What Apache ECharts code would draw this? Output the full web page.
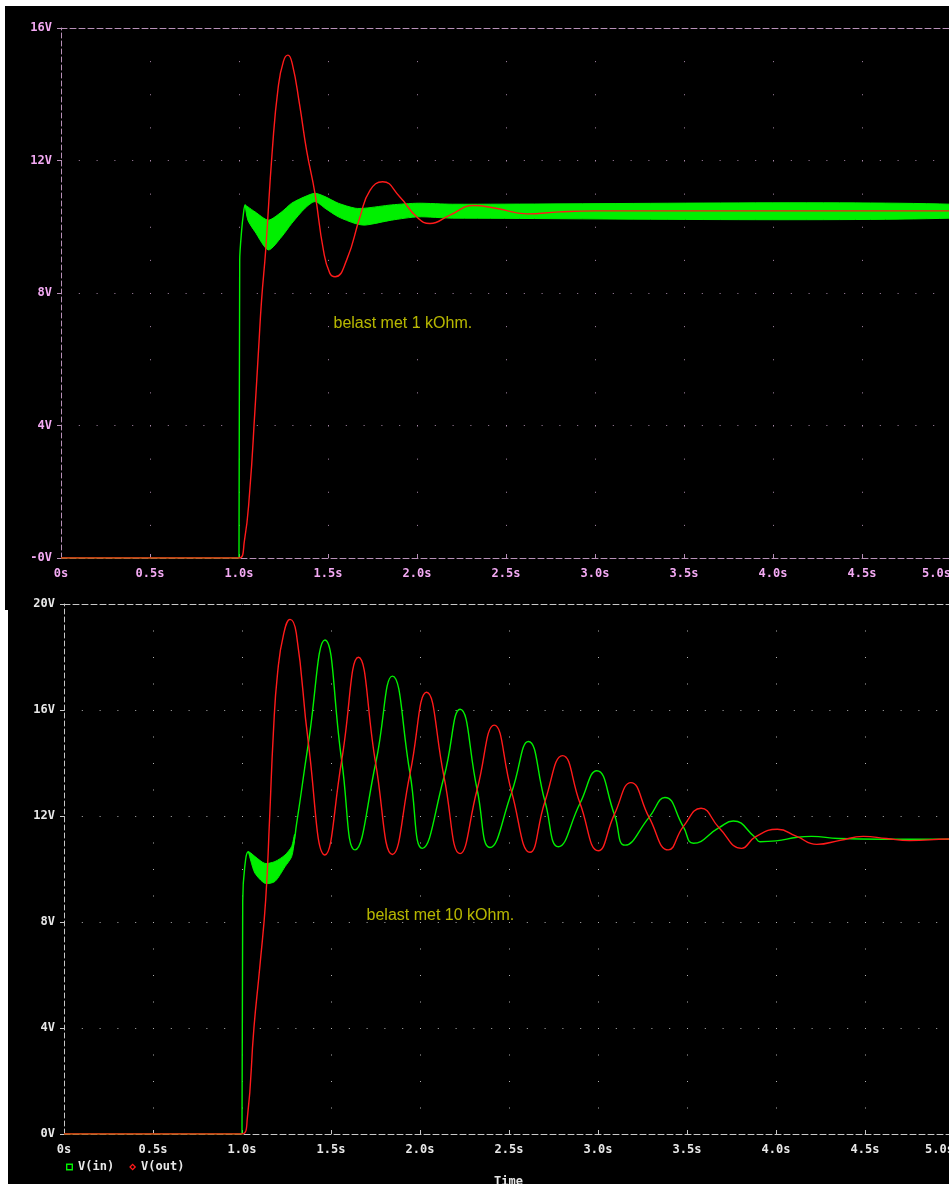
<!DOCTYPE html>
<html>
<head>
<meta charset="utf-8">
<script src="https://cdn.jsdelivr.net/npm/echarts/dist/echarts.min.js"></script>
<style>
html,body{margin:0;padding:0;background:#fff;overflow:hidden;width:949px;height:1184px}
#p1{position:absolute;left:5px;top:6px;width:944px;height:604px;background:#000}
#p2{position:absolute;left:8px;top:610px;width:941px;height:574px;background:#000}
#chart{position:absolute;left:0;top:0;width:949px;height:1184px}
</style>
</head>
<body>
<div id="p1"></div>
<div id="p2"></div>
<div id="chart"></div>
<script>
// ---------- tick labels ----------
const xTickLabels = ['0s','0.5s','1.0s','1.5s','2.0s','2.5s','3.0s','3.5s','4.0s','4.5s','5.0s'];
const topYTickLabels = ['-0V','4V','8V','12V','16V'];
const botYTickLabels = ['0V','4V','8V','12V','16V','20V'];
const legendNames = ['V(in)','V(out)'];
const timeLabel = 'Time';

// ---------- top plot (1 kOhm) ----------
const topVinT = [0, 1.0, 1.004, 1.015, 1.025, 1.034, 1.05, 1.09, 1.165, 1.24, 1.296, 1.371, 1.427, 1.483, 1.558, 1.652, 1.708, 1.858, 2.007, 2.2, 5.0];
const topVinV = [0, 0, 9.0, 9.9, 10.4, 10.66, 10.4, 10.15, 9.75, 10.08, 10.4, 10.73, 10.88, 10.73, 10.5, 10.33, 10.3, 10.43, 10.5, 10.46, 10.46];
const topBandT  = [1.034, 1.05, 1.09, 1.165, 1.24, 1.296, 1.371, 1.427, 1.483, 1.558, 1.652, 1.708, 1.858, 2.007, 2.2, 5.0];
const topBandLo = [10.66, 10.2, 9.85, 9.3, 9.7, 10.1, 10.56, 10.76, 10.56, 10.3, 10.1, 10.05, 10.2, 10.3, 10.26, 10.26];
const topBandHi = [10.66, 10.6, 10.45, 10.2, 10.45, 10.71, 10.91, 11.01, 10.91, 10.71, 10.56, 10.56, 10.66, 10.71, 10.68, 10.68];
const topVoutT = [0, 1.0, 1.03, 1.06, 1.09, 1.11, 1.127, 1.15, 1.187, 1.22, 1.25, 1.275, 1.30, 1.34, 1.38, 1.427, 1.474, 1.51, 1.54, 1.605, 1.68, 1.736, 1.807, 1.904, 1.998, 2.073, 2.185, 2.317, 2.45, 2.616, 2.8, 3.0, 5.0];
const topVoutV = [0, 0, 0.5, 2.0, 4.5, 6.3, 7.8, 9.3, 12.3, 14.2, 15.0, 15.18, 14.9, 13.7, 12.3, 11.0, 9.3, 8.6, 8.49, 9.0, 10.3, 11.1, 11.36, 10.9, 10.3, 10.1, 10.35, 10.64, 10.55, 10.39, 10.45, 10.48, 10.48];
const topNoteText = 'belast met 1 kOhm.';
const topNotePos = [1.528, 7.09];

// ---------- bottom plot (10 kOhm) ----------
const botVinT = [0, 1.0, 1.004, 1.02, 1.036, 1.05, 1.073, 1.129, 1.185, 1.242, 1.279, 1.307, 1.373, 1.466, 1.56, 1.635, 1.751, 1.845, 1.944, 2.013, 2.135, 2.225, 2.321, 2.393, 2.515, 2.609, 2.702, 2.777, 2.899, 2.993, 3.092, 3.152, 3.287, 3.376, 3.479, 3.536, 3.68, 3.76, 3.882, 3.91, 4.0, 4.12, 4.2, 4.35, 4.6, 5.0];
const botVinV = [0, 0, 8.8, 10.34, 10.65, 10.45, 10.15, 9.83, 9.9, 10.31, 10.66, 11.72, 14.75, 18.64, 14.1, 10.72, 13.99, 17.28, 13.6, 10.78, 13.48, 16.03, 13.0, 10.81, 12.9, 14.81, 12.55, 10.84, 12.48, 13.71, 12.06, 10.9, 11.95, 12.70, 11.6, 10.97, 11.56, 11.81, 11.2, 11.03, 11.06, 11.2, 11.23, 11.15, 11.12, 11.12];
const botBandT  = [1.036, 1.05, 1.073, 1.129, 1.185, 1.242, 1.279, 1.295];
const botBandLo = [10.65, 10.3, 9.84, 9.46, 9.53, 10.09, 10.47, 11.1];
const botBandHi = [10.65, 10.6, 10.47, 10.21, 10.28, 10.53, 10.85, 11.3];
const botVoutT = [0, 1.0, 1.03, 1.067, 1.10, 1.133, 1.155, 1.176, 1.20, 1.235, 1.27, 1.305, 1.373, 1.466, 1.56, 1.654, 1.751, 1.845, 1.944, 2.037, 2.135, 2.225, 2.321, 2.417, 2.515, 2.618, 2.702, 2.801, 2.899, 3.002, 3.092, 3.185, 3.287, 3.395, 3.479, 3.579, 3.68, 3.807, 3.882, 4.008, 4.116, 4.229, 4.36, 4.49, 4.62, 4.75, 4.97, 5.0];
const botVoutV = [0, 0, 0.6, 4.0, 6.3, 8.83, 11.9, 15.1, 17.4, 18.9, 19.42, 18.9, 14.75, 10.53, 14.1, 17.99, 13.99, 10.55, 13.6, 16.67, 13.48, 10.58, 13.0, 15.43, 12.9, 10.63, 12.55, 14.28, 12.48, 10.69, 12.06, 13.26, 11.95, 10.72, 11.6, 12.29, 11.56, 10.78, 11.2, 11.50, 11.23, 10.93, 11.08, 11.23, 11.15, 11.07, 11.13, 11.13];
const botNoteText = 'belast met 10 kOhm.';
const botNotePos = [1.697, 8.26];

// ---------- helpers ----------
const zip = (t, v) => t.map((x, i) => [x, v[i]]);
const zip3 = (t, a, b) => t.map((x, i) => [x, a[i], b[i]]);
const MONO = '"DejaVu Sans Mono", monospace';
const GREEN = '#00f000';
const RED = '#ff1a1a';

const TOP = {label: '#f4aaf4', axis: '#b890b8', dots: '#a888a8'};
const BOT = {label: '#e8e8e8', axis: '#c8c8c8', dots: '#b0b0b0'};

function xAxisMain(gridIndex, c, vDots) {
  return {
    type: 'value', gridIndex, min: 0, max: 5, interval: 0.5, position: 'bottom',
    axisLine: {show: true, onZero: false, lineStyle: {color: c.axis, width: 1, type: [6, 3]}},
    axisTick: {show: true, inside: true, length: 4, lineStyle: {color: c.axis}},
    axisLabel: {color: c.label, fontFamily: MONO, fontWeight: 'bold', fontSize: 12, margin: 10,
      showMinLabel: true, showMaxLabel: true, alignMaxLabel: 'right',
      formatter: v => xTickLabels[Math.round(v / 0.5)]},
    splitLine: {show: true, showMinLine: false, showMaxLine: false,
      lineStyle: {color: c.dots, width: 1, type: [1, vDots - 1]}}
  };
}
function xAxisTop(gridIndex, c) {
  return {
    type: 'value', gridIndex, min: 0, max: 5, position: 'top',
    axisLine: {show: true, onZero: false, lineStyle: {color: c.axis, width: 1, type: [6, 3]}},
    axisTick: {show: false}, axisLabel: {show: false}, splitLine: {show: false}
  };
}
function yAxisMain(gridIndex, c, max, labels) {
  return {
    type: 'value', gridIndex, min: 0, max, interval: 4,
    axisLine: {show: true, onZero: false, lineStyle: {color: c.axis, width: 1, type: [5, 3]}},
    axisTick: {show: true, length: 4, lineStyle: {color: c.axis}},
    axisLabel: {color: c.label, fontFamily: MONO, fontWeight: 'bold', fontSize: 12, margin: 9,
      formatter: v => labels[Math.round(v / 4)]},
    splitLine: {show: true, showMinLine: false, showMaxLine: false,
      lineStyle: {color: c.dots, width: 1, type: [1, 890 / 50 - 1]}}
  };
}

function lineSeries(name, data, color, xi, smooth) {
  return {
    name, type: 'line', data, xAxisIndex: xi, yAxisIndex: xi / 2,
    showSymbol: false, symbol: 'none', smooth,
    lineStyle: {color, width: 1.4}, itemStyle: {color}, silent: true
  };
}
function bandSeries(rows, xi) {
  return {
    name: 'band', type: 'custom', xAxisIndex: xi, yAxisIndex: xi / 2,
    data: rows, encode: {x: 0, y: [1, 2]}, silent: true,
    renderItem: function (params, api) {
      if (params.dataIndex !== 0) return null;
      const n = params.dataInsideLength;
      const pts = [];
      for (let i = 0; i < n; i++) pts.push(api.coord([api.value(0, i), api.value(1, i)]));
      for (let i = n - 1; i >= 0; i--) pts.push(api.coord([api.value(0, i), api.value(2, i)]));
      return {type: 'polygon', shape: {points: pts, smooth: 0.25},
        style: {fill: GREEN, stroke: GREEN, lineWidth: 1}};
    }
  };
}
function noteSeries(text, pos, xi) {
  return {
    name: 'note', type: 'scatter', xAxisIndex: xi, yAxisIndex: xi / 2,
    data: [pos], symbolSize: 1, itemStyle: {color: 'rgba(0,0,0,0)'}, silent: true,
    label: {show: true, position: 'right', distance: 0, formatter: text,
      color: '#e4e400', fontFamily: '"Liberation Sans", Arial, sans-serif', fontSize: 16}
  };
}

const chart = echarts.init(document.getElementById('chart'), null, {renderer: 'canvas'});
chart.setOption({
  animation: false,
  backgroundColor: 'transparent',
  grid: [
    {left: 61, top: 28, width: 890, height: 530, containLabel: false, outerBoundsMode: 'none'},
    {left: 64, top: 604, width: 890, height: 530, containLabel: false, outerBoundsMode: 'none'}
  ],
  xAxis: [xAxisMain(0, TOP, 530 / 16), xAxisTop(0, TOP), xAxisMain(1, BOT, 530 / 20), xAxisTop(1, BOT)],
  yAxis: [yAxisMain(0, TOP, 16, topYTickLabels), yAxisMain(1, BOT, 20, botYTickLabels)],
  legend: {
    left: 66, top: 1161, itemWidth: 7, itemHeight: 7, itemGap: 15, padding: 0,
    textStyle: {color: BOT.label, fontFamily: MONO, fontWeight: 'bold', fontSize: 12, padding: [0, 0, 0, 0]},
    data: [
      {name: legendNames[0], icon: 'path://M0,0H10V10H0Z M2,2V8H8V2Z'},
      {name: legendNames[1], icon: 'path://M5,0L10,5L5,10L0,5Z M5,2.6L2.6,5L5,7.4L7.4,5Z'}
    ],
    selectedMode: false
  },
  graphic: [{
    type: 'text', left: 494, top: 1176,
    style: {text: timeLabel, fill: BOT.label, font: 'bold 12px ' + MONO}
  }],
  series: [
    lineSeries(legendNames[0], zip(topVinT, topVinV), GREEN, 0, 0.3),
    bandSeries(zip3(topBandT, topBandLo, topBandHi), 0),
    lineSeries(legendNames[1], zip(topVoutT, topVoutV), RED, 0, 0.5),
    lineSeries(legendNames[0], zip(botVinT, botVinV), GREEN, 2, 0.5),
    bandSeries(zip3(botBandT, botBandLo, botBandHi), 2),
    lineSeries(legendNames[1], zip(botVoutT, botVoutV), RED, 2, 0.5),
    noteSeries(topNoteText, topNotePos, 0),
    noteSeries(botNoteText, botNotePos, 2)
  ]
});
</script>
</body>
</html>
